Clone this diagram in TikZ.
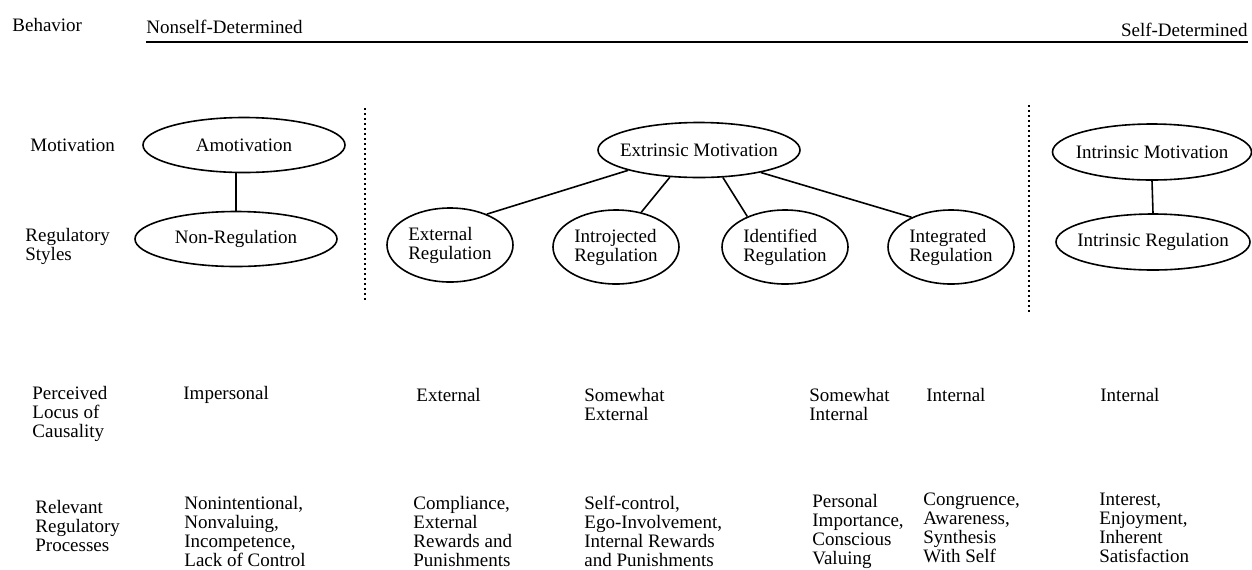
\documentclass[tikz,border=0pt]{standalone}
\usepackage{fontspec}
\setmainfont{Liberation Serif}
\usetikzlibrary{shapes.geometric}

\tikzset{
  txt/.style={font=\fontsize{9.5pt}{9.5pt}\selectfont, align=left, inner sep=0pt},
  oval/.style={txt, draw, ellipse, line width=0.8pt, inner xsep=-20pt, inner ysep=0pt,
    minimum width=101pt, minimum height=27.5pt},
  egg/.style={oval, minimum width=63pt, minimum height=37pt},
  dots/.style={line width=0.6pt, dash pattern=on 1.2pt off 1.3pt}
}

\begin{document}
\begin{tikzpicture}[x=0.5pt, y=-0.5pt]
    \useasboundingbox (0,0) rectangle (1252,569);
    \node [txt, anchor=base west] (BH) at (12,31) {Behavior};
    \node [txt, anchor=base west] (NS) at (146,33) {Nonself-Determined};
    \node [txt, anchor=base east] (SD) at (1248,36) {Self-Determined};
    \coordinate (L) at (146,42);
    \coordinate (R) at (1248,42);
    \draw [line width=1pt] (L) -- (R);

    \node [txt, anchor=west] (MO) at (30,145) {Motivation};
    \node [txt, anchor=west] (RS) at (25,246) {Regulatory\\Styles};
    \node [txt, anchor=west] (PL) at (32,414) {Perceived\\Locus of\\Causality};
    \node [txt, anchor=west] (RP) at (35,526) {Relevant\\Regulatory\\Processes};

    \node [oval] (AM) at (244,145) {Amotivation};
    \node [oval] (NR) at (236,239) {Non-Regulation};
    \node [oval] (EM) at (699,150) {Extrinsic Motivation};
    \node [egg] (ER) at (450,245) {External\\Regulation};
    \node [egg] (IJ) at (616,247) {Introjected\\Regulation};
    \node [egg] (ID) at (785,247) {Identified\\Regulation};
    \node [egg] (IG) at (951,247) {Integrated\\Regulation};
    \node [oval, minimum width=99.5pt, minimum height=28pt] (IM) at (1152,152) {Intrinsic Motivation};
    \node [oval, minimum width=97pt, minimum height=28pt] (IR) at (1153,242) {Intrinsic Regulation};

    \draw [line width=0.8pt] (NR.north) -- (NR.north |- AM.south);
    \draw [line width=0.8pt] (EM.196) -- (ER.40);
    \draw [line width=0.8pt] (EM.223) -- (IJ.54);
    \draw [line width=0.8pt] (EM.311) -- (ID.141);
    \draw [line width=0.8pt] (EM.340) -- (IG.143);
    \draw [line width=0.8pt] (IM.south) -- (IR.north);

    \coordinate (D1a) at (365,108);
    \coordinate (D1b) at (365,302);
    \coordinate (D2a) at (1029,105);
    \coordinate (D2b) at (1029,312);
    \draw [dots] (D1a) -- (D1b);
    \draw [dots] (D2a) -- (D2b);

    \node [txt, anchor=west] (P1) at (183,395) {Impersonal};
    \node [txt, anchor=west] (P2) at (416,395) {External};
    \node [txt, anchor=west] (P3) at (584,404) {Somewhat\\External};
    \node [txt, anchor=west] (P4) at (809,404) {Somewhat\\Internal};
    \node [txt, anchor=west] (P5) at (926,395) {Internal};
    \node [txt, anchor=west] (P6) at (1100,395) {Internal};

    \node [txt, anchor=west] (Q1) at (184,531) {Nonintentional,\\Nonvaluing,\\Incompetence,\\Lack of Control};
    \node [txt, anchor=west] (Q2) at (413,531) {Compliance,\\External\\Rewards and\\Punishments};
    \node [txt, anchor=west] (Q3) at (584,531) {Self-control,\\Ego-Involvement,\\Internal Rewards\\and Punishments};
    \node [txt, anchor=west] (Q4) at (812,531) {Personal\\Importance,\\Conscious\\Valuing};
    \node [txt, anchor=west] (Q5) at (923,528) {Congruence,\\Awareness,\\Synthesis\\With Self};
    \node [txt, anchor=west] (Q6) at (1099,528) {Interest,\\Enjoyment,\\Inherent\\Satisfaction};
\end{tikzpicture}
\end{document}
